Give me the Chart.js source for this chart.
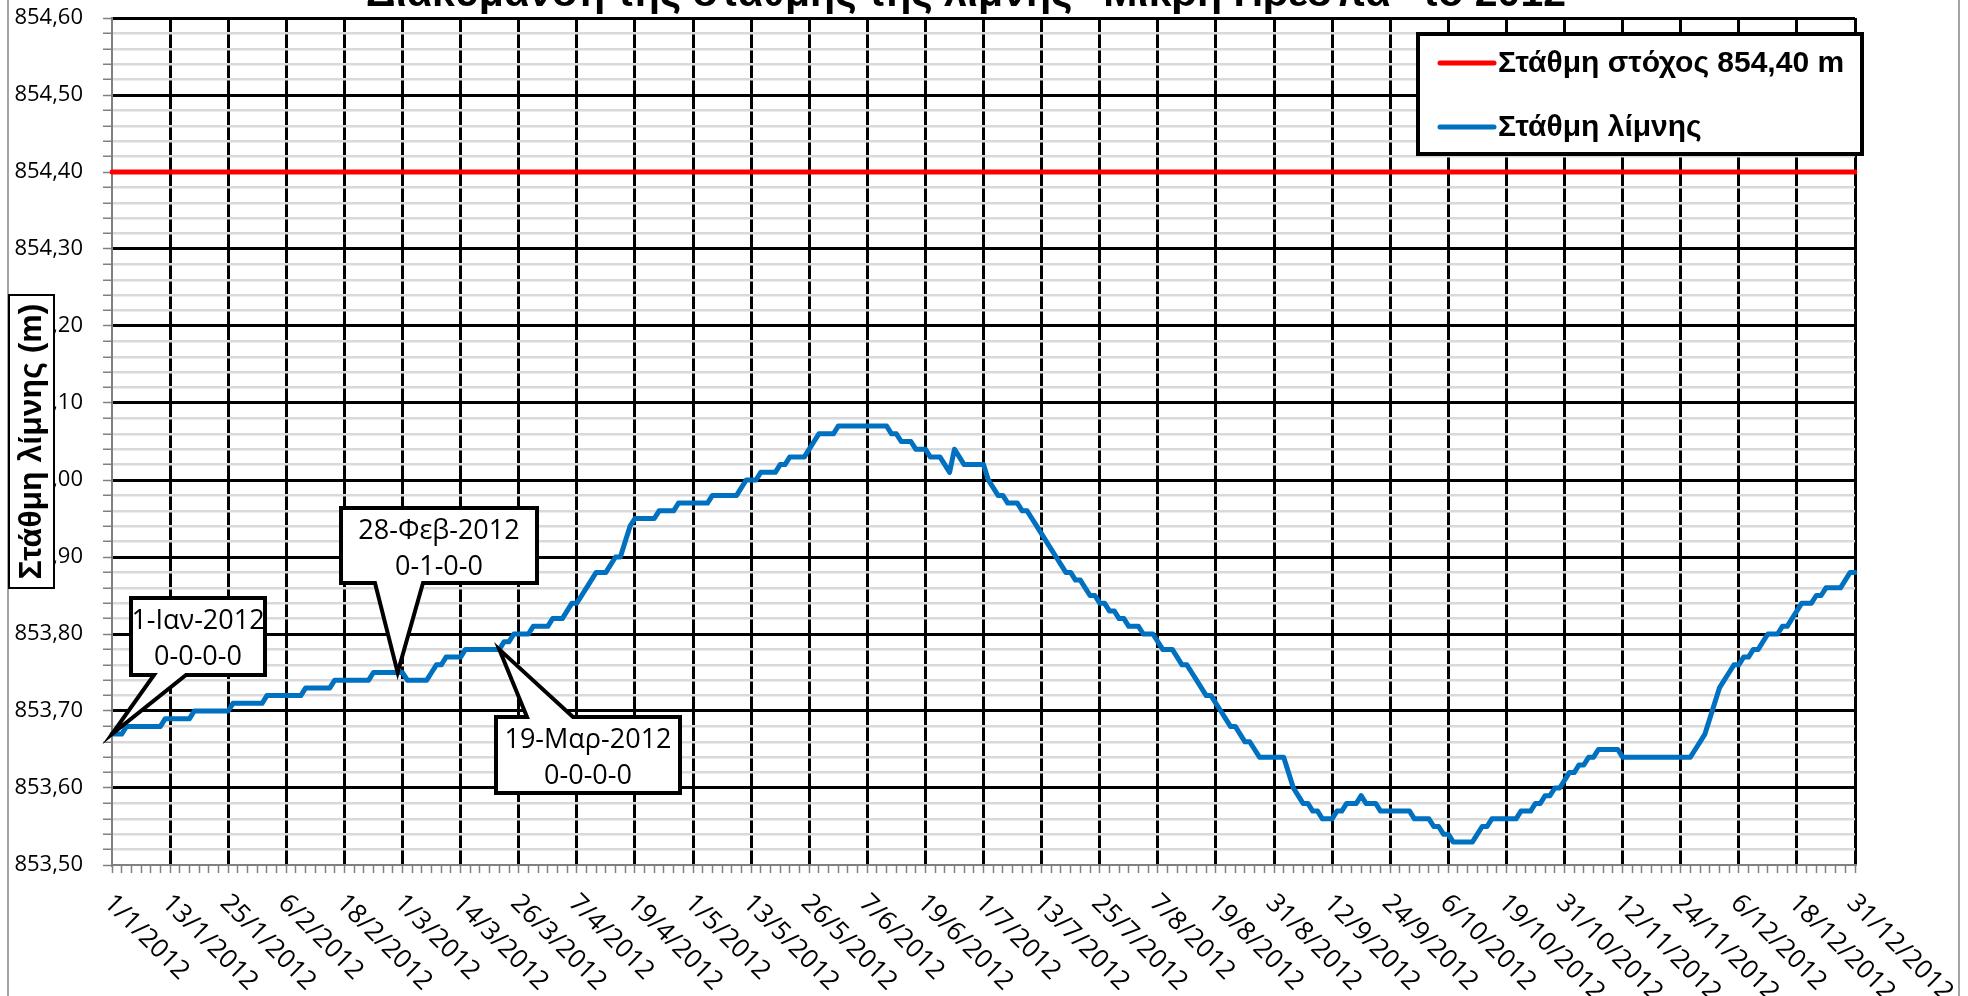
<!DOCTYPE html>
<html>
<head>
<meta charset="utf-8">
<title>Στάθμη λίμνης Μικρή Πρέσπα 2012</title>
<script src="https://cdn.jsdelivr.net/npm/chart.js@4.4.0/dist/chart.umd.min.js"></script>
<style>
  html, body { margin: 0; padding: 0; background: #ffffff; overflow: hidden; }
  canvas { display: block; }
</style>
</head>
<body>
<canvas id="chart" width="1968" height="996"></canvas>
<script>
// date axis: one labelled tick every 12 readings
const dateTicks = [
  '1/1/2012', '13/1/2012', '25/1/2012', '6/2/2012', '18/2/2012', '1/3/2012',
  '14/3/2012', '26/3/2012', '7/4/2012', '19/4/2012', '1/5/2012', '13/5/2012',
  '26/5/2012', '7/6/2012', '19/6/2012', '1/7/2012', '13/7/2012', '25/7/2012',
  '7/8/2012', '19/8/2012', '31/8/2012', '12/9/2012', '24/9/2012', '6/10/2012',
  '19/10/2012', '31/10/2012', '12/11/2012', '24/11/2012', '6/12/2012', '18/12/2012',
  '31/12/2012'
];
const TICK_EVERY = 12;

// daily lake level (m), one row per tick interval
const lakeLevel = [
  853.67, 853.67, 853.67, 853.68, 853.68, 853.68, 853.68, 853.68, 853.68, 853.68, 853.68, 853.69,
  853.69, 853.69, 853.69, 853.69, 853.69, 853.70, 853.70, 853.70, 853.70, 853.70, 853.70, 853.70,
  853.70, 853.71, 853.71, 853.71, 853.71, 853.71, 853.71, 853.71, 853.72, 853.72, 853.72, 853.72,
  853.72, 853.72, 853.72, 853.72, 853.73, 853.73, 853.73, 853.73, 853.73, 853.73, 853.74, 853.74,
  853.74, 853.74, 853.74, 853.74, 853.74, 853.74, 853.75, 853.75, 853.75, 853.75, 853.75, 853.75,
  853.75, 853.74, 853.74, 853.74, 853.74, 853.74, 853.75, 853.76, 853.76, 853.77, 853.77, 853.77,
  853.77, 853.78, 853.78, 853.78, 853.78, 853.78, 853.78, 853.78, 853.78, 853.79, 853.79, 853.80,
  853.80, 853.80, 853.80, 853.81, 853.81, 853.81, 853.81, 853.82, 853.82, 853.82, 853.83, 853.84,
  853.84, 853.85, 853.86, 853.87, 853.88, 853.88, 853.88, 853.89, 853.90, 853.90, 853.92, 853.94,
  853.95, 853.95, 853.95, 853.95, 853.95, 853.96, 853.96, 853.96, 853.96, 853.97, 853.97, 853.97,
  853.97, 853.97, 853.97, 853.97, 853.98, 853.98, 853.98, 853.98, 853.98, 853.98, 853.99, 854.00,
  854.00, 854.00, 854.01, 854.01, 854.01, 854.01, 854.02, 854.02, 854.03, 854.03, 854.03, 854.03,
  854.04, 854.05, 854.06, 854.06, 854.06, 854.06, 854.07, 854.07, 854.07, 854.07, 854.07, 854.07,
  854.07, 854.07, 854.07, 854.07, 854.07, 854.06, 854.06, 854.05, 854.05, 854.05, 854.04, 854.04,
  854.04, 854.03, 854.03, 854.03, 854.02, 854.01, 854.04, 854.03, 854.02, 854.02, 854.02, 854.02,
  854.02, 854.00, 853.99, 853.98, 853.98, 853.97, 853.97, 853.97, 853.96, 853.96, 853.95, 853.94,
  853.93, 853.92, 853.91, 853.90, 853.89, 853.88, 853.88, 853.87, 853.87, 853.86, 853.85, 853.85,
  853.84, 853.84, 853.83, 853.83, 853.82, 853.82, 853.81, 853.81, 853.81, 853.80, 853.80, 853.80,
  853.79, 853.78, 853.78, 853.78, 853.77, 853.76, 853.76, 853.75, 853.74, 853.73, 853.72, 853.72,
  853.71, 853.70, 853.69, 853.68, 853.68, 853.67, 853.66, 853.66, 853.65, 853.64, 853.64, 853.64,
  853.64, 853.64, 853.64, 853.62, 853.60, 853.59, 853.58, 853.58, 853.57, 853.57, 853.56, 853.56,
  853.56, 853.57, 853.57, 853.58, 853.58, 853.58, 853.59, 853.58, 853.58, 853.58, 853.57, 853.57,
  853.57, 853.57, 853.57, 853.57, 853.57, 853.56, 853.56, 853.56, 853.56, 853.55, 853.55, 853.54,
  853.54, 853.53, 853.53, 853.53, 853.53, 853.53, 853.54, 853.55, 853.55, 853.56, 853.56, 853.56,
  853.56, 853.56, 853.56, 853.57, 853.57, 853.57, 853.58, 853.58, 853.59, 853.59, 853.60, 853.60,
  853.61, 853.62, 853.62, 853.63, 853.63, 853.64, 853.64, 853.65, 853.65, 853.65, 853.65, 853.65,
  853.64, 853.64, 853.64, 853.64, 853.64, 853.64, 853.64, 853.64, 853.64, 853.64, 853.64, 853.64,
  853.64, 853.64, 853.64, 853.65, 853.66, 853.67, 853.69, 853.71, 853.73, 853.74, 853.75, 853.76,
  853.76, 853.77, 853.77, 853.78, 853.78, 853.79, 853.80, 853.80, 853.80, 853.81, 853.81, 853.82,
  853.83, 853.84, 853.84, 853.84, 853.85, 853.85, 853.86, 853.86, 853.86, 853.86, 853.87, 853.88,
  853.88
];

const targetLevel = 854.40;

const yMin = 853.50;
const yMax = 854.60;
const yStep = 0.02;

// labelled readings (index into lakeLevel) and their callout texts
const calloutIndex = [0, 59, 80];
const calloutText = [
  ['1-Ιαν-2012', '0-0-0-0'],
  ['28-Φεβ-2012', '0-1-0-0'],
  ['19-Μαρ-2012', '0-0-0-0']
];

const titleText = 'Διακύμανση της στάθμης της λίμνης "Μικρή Πρέσπα" το 2012';
const yTitleText = 'Στάθμη λίμνης (m)';

const categories = lakeLevel.map((v, i) => i % TICK_EVERY === 0 ? dateTicks[i / TICK_EVERY] : '');

const fmt = v => v.toFixed(2).replace('.', ',');
const hundredths = v => Math.round(v * 100);

const overlay = {
  id: 'overlay',
  afterDatasetsDraw(chart, args, opts) {
    const ctx = chart.ctx;
    const xs = chart.scales.x, ys = chart.scales.y;

    // callouts
    ctx.save();
    opts.callouts.forEach((c, k) => {
      const i = calloutIndex[k];
      const tip = { x: xs.getPixelForValue(i), y: ys.getPixelForValue(lakeLevel[i]) };
      const [l, t, r, b] = c.box;
      ctx.beginPath();
      ctx.moveTo(l, t);
      if (c.side === 'top') {
        ctx.lineTo(c.base[0], t);
        ctx.lineTo(tip.x, tip.y);
        ctx.lineTo(c.base[1], t);
      }
      ctx.lineTo(r, t);
      ctx.lineTo(r, b);
      if (c.side === 'bottom') {
        ctx.lineTo(c.base[1], b);
        ctx.lineTo(tip.x, tip.y);
        ctx.lineTo(c.base[0], b);
      }
      ctx.lineTo(l, b);
      ctx.closePath();
      ctx.fillStyle = '#ffffff';
      ctx.fill();
      ctx.lineWidth = 4;
      ctx.lineJoin = 'miter';
      ctx.strokeStyle = '#000000';
      ctx.stroke();

      ctx.fillStyle = '#000000';
      ctx.font = '27px "Open Sans"';
      ctx.textAlign = 'center';
      ctx.textBaseline = 'middle';
      calloutText[k].forEach((line, n) => {
        ctx.fillText(line, (l + r) / 2, t + 23 + n * 36);
      });
    });
    ctx.restore();

    // legend box
    const lg = opts.legend;
    ctx.save();
    ctx.fillStyle = '#ffffff';
    ctx.fillRect(lg.box[0], lg.box[1], lg.box[2] - lg.box[0], lg.box[3] - lg.box[1]);
    ctx.lineWidth = 4;
    ctx.strokeStyle = '#000000';
    ctx.strokeRect(lg.box[0], lg.box[1], lg.box[2] - lg.box[0], lg.box[3] - lg.box[1]);
    ctx.font = 'bold 30px "Liberation Sans"';
    ctx.textAlign = 'left';
    ctx.textBaseline = 'middle';
    chart.data.datasets.forEach((ds, n) => {
      const y = lg.rows[n];
      ctx.beginPath();
      ctx.moveTo(lg.sample[0], y);
      ctx.lineTo(lg.sample[1], y);
      ctx.lineWidth = 5;
      ctx.lineCap = 'round';
      ctx.strokeStyle = ds.borderColor;
      ctx.stroke();
      ctx.fillStyle = '#000000';
      ctx.fillText(ds.label, lg.textX, y + 1);
    });
    ctx.restore();
  },
  afterDraw(chart, args, opts) {
    const ctx = chart.ctx;
    const xs = chart.scales.x;
    const area = chart.chartArea;

    ctx.save();
    // outer frame (left / right edges visible)
    ctx.strokeStyle = '#868686';
    ctx.lineWidth = 1.5;
    ctx.beginPath();
    ctx.moveTo(opts.frame[0], 0);
    ctx.lineTo(opts.frame[0], chart.height);
    ctx.moveTo(opts.frame[1], 0);
    ctx.lineTo(opts.frame[1], chart.height);
    ctx.stroke();

    // title, clipped by the top edge
    ctx.fillStyle = '#000000';
    ctx.font = 'bold 41px "Liberation Sans"';
    ctx.textAlign = 'center';
    ctx.textBaseline = 'alphabetic';
    ctx.fillText(titleText, opts.titleX, opts.titleY);

    // date labels, rotated down to the right
    ctx.font = '26px "Open Sans"';
    ctx.textAlign = 'left';
    ctx.textBaseline = 'middle';
    dateTicks.forEach((lab, n) => {
      const x = xs.getPixelForValue(n * TICK_EVERY);
      ctx.save();
      ctx.translate(x + opts.xLabelDx, area.bottom + opts.xLabelDy);
      ctx.rotate(Math.PI / 4);
      ctx.fillText(lab, 0, 0);
      ctx.restore();
    });

    // y axis title in a box
    const yb = opts.yTitleBox;
    ctx.fillStyle = '#ffffff';
    ctx.fillRect(yb[0], yb[1], yb[2] - yb[0], yb[3] - yb[1]);
    ctx.lineWidth = 2;
    ctx.strokeStyle = '#000000';
    ctx.strokeRect(yb[0], yb[1], yb[2] - yb[0], yb[3] - yb[1]);
    ctx.translate((yb[0] + yb[2]) / 2 + 1, (yb[1] + yb[3]) / 2);
    ctx.rotate(-Math.PI / 2);
    ctx.fillStyle = '#000000';
    ctx.font = 'bold 32px "Liberation Sans"';
    ctx.textAlign = 'center';
    ctx.textBaseline = 'middle';
    ctx.fillText(yTitleText, 0, 0);
    ctx.restore();
  }
};

new Chart(document.getElementById('chart'), {
  type: 'line',
  data: {
    labels: categories,
    datasets: [{
      label: 'Στάθμη στόχος 854,40 m',
      data: [{ x: dateTicks[0], y: targetLevel }, { x: dateTicks[dateTicks.length - 1], y: targetLevel }],
      borderColor: '#ff0000',
      borderWidth: 5,
      pointRadius: 0,
      borderCapStyle: 'round'
    }, {
      label: 'Στάθμη λίμνης',
      data: lakeLevel,
      borderColor: '#0070c0',
      borderWidth: 5,
      pointRadius: 0,
      tension: 0,
      borderJoinStyle: 'round',
      borderCapStyle: 'round'
    }]
  },
  options: {
    responsive: false,
    animation: false,
    devicePixelRatio: 1,
    layout: { padding: { left: 0, right: 113, top: 18, bottom: 0 } },
    plugins: {
      legend: { display: false },
      tooltip: { enabled: false },
      overlay: {
        frame: [8, 1959],
        titleX: 966,
        titleY: 6,
        xLabelDx: -4,
        xLabelDy: 34,
        yTitleBox: [9, 295, 54, 588],
        legend: { box: [1418, 34, 1862, 154], sample: [1440, 1494], textX: 1498, rows: [63, 127] },
        callouts: [
          { box: [131, 598, 265, 675], side: 'bottom', base: [154, 186] },
          { box: [341, 508, 537, 583], side: 'bottom', base: [375, 423] },
          { box: [496, 717, 680, 793], side: 'top', base: [527, 573] }
        ]
      }
    },
    scales: {
      x: {
        type: 'category',
        offset: false,
        afterFit(scale) { scale.height = 131; scale.paddingLeft = 0; scale.paddingRight = 0; },
        ticks: { display: false, autoSkip: false },
        border: { color: '#808080', width: 2 },
        grid: {
          color: c => (c.index % TICK_EVERY === 0 && c.index !== 0) ? '#000000' : 'rgba(0,0,0,0)',
          lineWidth: 3,
          tickColor: c => c.index % 2 === 0 ? '#808080' : 'rgba(0,0,0,0)',
          tickLength: 8,
          tickWidth: 1.5
        }
      },
      y: {
        min: yMin,
        max: yMax,
        afterFit(scale) { scale.width = 112; scale.paddingTop = 0; scale.paddingBottom = 0; },
        ticks: {
          stepSize: yStep,
          autoSkip: false,
          padding: 20,
          color: '#000000',
          font: { family: 'Open Sans', size: 22 },
          callback: v => hundredths(v) % 10 === 0 ? fmt(v) : ''
        },
        border: { color: '#808080', width: 2 },
        grid: {
          color: c => {
            const k = hundredths(c.tick.value);
            if (k === hundredths(yMin)) return 'rgba(0,0,0,0)';
            return k % 10 === 0 ? '#000000' : '#d9d9d9';
          },
          lineWidth: c => hundredths(c.tick.value) % 10 === 0 ? 3 : 2.5,
          tickColor: '#808080',
          tickLength: 9,
          tickWidth: 1.5
        }
      }
    }
  },
  plugins: [overlay]
});
</script>
</body>
</html>
